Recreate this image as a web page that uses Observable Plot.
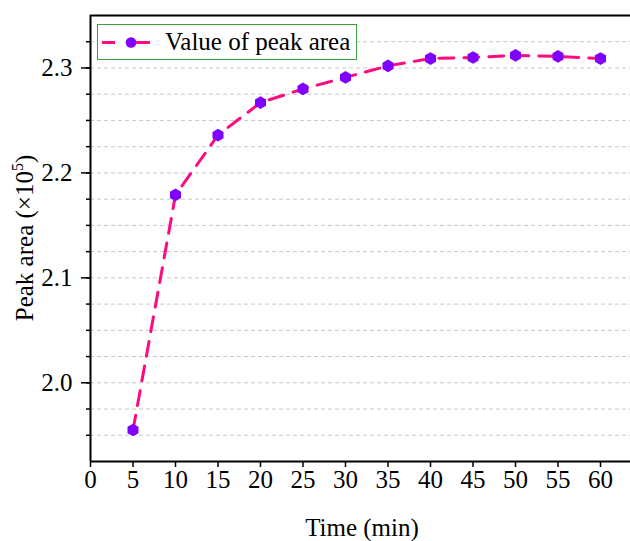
<!DOCTYPE html>
<html>
<head>
<meta charset="utf-8">
<script src="https://cdn.jsdelivr.net/npm/d3@7"></script>
<script src="https://cdn.jsdelivr.net/npm/@observablehq/plot@0.6"></script>
<style>
  html, body { margin: 0; padding: 0; background: #fff; }
  #wrap { position: relative; width: 630px; height: 541px; font-family: "Liberation Serif", "Times New Roman", serif; }
  #wrap svg text { font-family: "Liberation Serif", "Times New Roman", serif; }
  #legend { position: absolute; left: 97px; top: 24px; width: 260px; height: 36px; border: 1px solid #3f9f3f; background: #fff; box-sizing: border-box; }
  #legend svg { position: absolute; left: 0; top: 0; }
  #legend span { position: absolute; left: 67px; top: 2px; font-size: 25px; line-height: 30px; color: #000; white-space: nowrap; }
</style>
</head>
<body>
<div id="wrap"></div>
<script>
const times = [5, 10, 15, 20, 25, 30, 35, 40, 45, 50, 55, 60];
const peakArea = [1.955, 2.179, 2.236, 2.267, 2.280, 2.291, 2.302, 2.309, 2.310, 2.312, 2.311, 2.309];
const xTicks = [0, 5, 10, 15, 20, 25, 30, 35, 40, 45, 50, 55, 60];
const yTicks = [2.0, 2.1, 2.2, 2.3];
const yMinorTicks = [1.95, 1.975, 2.0, 2.025, 2.05, 2.075, 2.1, 2.125, 2.15, 2.175, 2.2, 2.225, 2.25, 2.275, 2.3, 2.325];
const seriesName = "Value of peak area";
const xLabel = "Time (min)";
const yLabel = "Peak area (×10";
const yLabelSup = "5";
const yLabelEnd = ")";

const lineColor = "#ff0a7f";
const markColor = "#8000ff";
const fontFamily = "'Liberation Serif', 'Times New Roman', serif";

const data = times.map((t, i) => ({t, v: peakArea[i]}));

const chart = Plot.plot({
  width: 630,
  height: 541,
  marginLeft: 90,
  marginRight: 0,
  marginTop: 15,
  marginBottom: 80,
  style: {fontFamily, fontSize: "25px", background: "#fff", color: "#000"},
  x: {domain: [0, 63.53]},
  y: {domain: [1.925, 2.35]},
  marks: [
    Plot.gridY(yMinorTicks, {stroke: "#c8c8c8", strokeOpacity: 1, strokeDasharray: "4,3", strokeWidth: 1}),
    Plot.axisY(yMinorTicks, {tickSize: 4, text: null, strokeWidth: 1.5, label: null}),
    Plot.axisY(yTicks, {tickSize: 9, text: null, strokeWidth: 1.5, label: null}),
    Plot.text(yTicks, {y: d => d, frameAnchor: "left", dx: -18, textAnchor: "end", text: d => d.toFixed(1), fontSize: 25, fill: "#000"}),
    Plot.axisX(xTicks, {tickSize: 6, text: null, strokeWidth: 1.5, label: null}),
    Plot.text(xTicks, {x: d => d, frameAnchor: "bottom", dy: 26, text: d => String(d), fontSize: 25, fill: "#000"}),
    Plot.ruleX([0], {stroke: "#000", strokeWidth: 2}),
    Plot.ruleY([1.925], {stroke: "#000", strokeWidth: 2}),
    Plot.ruleY([2.35], {stroke: "#000", strokeWidth: 2}),
    Plot.line(data, {x: "t", y: "v", stroke: lineColor, strokeWidth: 3, strokeDasharray: "15,10"}),
    Plot.dot(data, {x: "t", y: "v", symbol: "hexagon", r: 5.5, fill: markColor, stroke: "none"})
  ]
});

const wrap = document.getElementById("wrap");
wrap.appendChild(chart);

const svg = d3.select(chart);
svg.append("text")
  .attr("x", 362).attr("y", 536)
  .attr("text-anchor", "middle")
  .attr("font-size", 25)
  .attr("fill", "#000")
  .text(xLabel);

const yl = svg.append("text")
  .attr("transform", "translate(33,238) rotate(-90)")
  .attr("text-anchor", "middle")
  .attr("font-size", 25)
  .attr("fill", "#000");
yl.append("tspan").text(yLabel);
yl.append("tspan").attr("font-size", 16).attr("dy", "-0.6em").text(yLabelSup);
yl.append("tspan").attr("dy", "0.38em").text(yLabelEnd);

// legend
const leg = document.createElement("div");
leg.id = "legend";
wrap.appendChild(leg);
const lsvg = d3.select(leg).append("svg").attr("width", 66).attr("height", 34);
const ly = 17.5;
lsvg.append("line").attr("x1", 4).attr("x2", 17).attr("y1", ly).attr("y2", ly)
  .attr("stroke", lineColor).attr("stroke-width", 3);
lsvg.append("line").attr("x1", 33).attr("x2", 52).attr("y1", ly).attr("y2", ly)
  .attr("stroke", lineColor).attr("stroke-width", 3);
lsvg.append("path").attr("d", d3.symbol(d3.symbolCircle, 90)()).attr("transform", `translate(33,${ly})`)
  .attr("fill", markColor);
const span = document.createElement("span");
span.textContent = seriesName;
leg.appendChild(span);
</script>
</body>
</html>
